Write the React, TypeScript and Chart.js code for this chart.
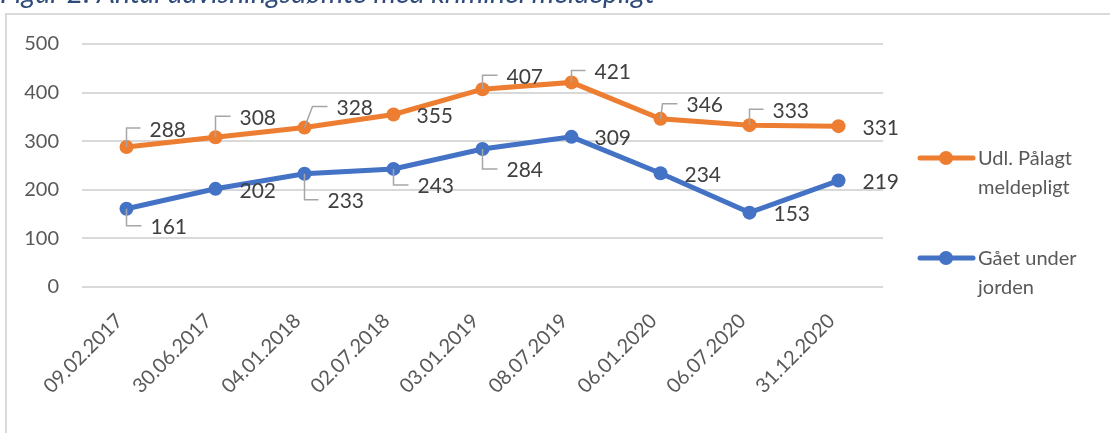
import React, { useEffect, useRef } from "react";
import { Chart, registerables } from "chart.js";

Chart.register(...registerables);

// ---- data ----
const categories = [
  "09.02.2017",
  "30.06.2017",
  "04.01.2018",
  "02.07.2018",
  "03.01.2019",
  "08.07.2019",
  "06.01.2020",
  "06.07.2020",
  "31.12.2020",
];
const udlPaalagtMeldepligt = [288, 308, 328, 355, 407, 421, 346, 333, 331];
const gaaetUnderJorden = [161, 202, 233, 243, 284, 309, 234, 153, 219];
const yMin = 0;
const yMax = 500;
const yStep = 100;
const seriesOneName = ["Udl. Pålagt", "meldepligt"];
const seriesTwoName = ["Gået under", "jorden"];
const titleText = "Figur 2: Antal udvisningsdømte med kriminel meldepligt";

// ---- label placement (pixel offsets relative to each point) ----
const orangeLabelDx = [23, 24, 32, 23, 24, 23, 26, 23, 24];
const orangeLabelDy = [-18, -20, -20, 1, -13, -11, -14, -15, 1];
const orangeLeader = [1, 1, 1, 0, 1, 1, 1, 1, 0];
const blueLabelDx = [24, 24, 23, 24, 24, 23, 24, 24, 24];
const blueLabelDy = [18, 2, 27, 17, 21, 1, 1, 1, 1];
const blueLeader = [1, 0, 1, 1, 1, 0, 0, 0, 0];

const FONT = "Lato, 'Open Sans', sans-serif";
const ORANGE = "#ED7D31";
const BLUE = "#4472C4";

const decorPlugin = {
  id: "decor",
  beforeDraw(chart: any) {
    const ctx = chart.ctx;
    ctx.save();
    ctx.fillStyle = "#ffffff";
    ctx.fillRect(0, 0, chart.width, chart.height);
    ctx.font = `italic 28.5px ${FONT}`;
    ctx.fillStyle = "#2F4B7C";
    ctx.textBaseline = "alphabetic";
    ctx.textAlign = "left";
    ctx.fillText(titleText, 0, 3);
    ctx.strokeStyle = "#D9D9D9";
    ctx.lineWidth = 2;
    ctx.beginPath();
    ctx.moveTo(6, chart.height + 5);
    ctx.lineTo(6, 14);
    ctx.lineTo(chart.width + 5, 14);
    ctx.stroke();
    ctx.restore();
  },
  afterDatasetsDraw(chart: any) {
    const ctx = chart.ctx;
    const cfgs = [
      { dx: orangeLabelDx, dy: orangeLabelDy, leader: orangeLeader },
      { dx: blueLabelDx, dy: blueLabelDy, leader: blueLeader },
    ];
    ctx.save();
    chart.data.datasets.forEach((ds: any, di: number) => {
      const meta = chart.getDatasetMeta(di);
      const c = cfgs[di];
      meta.data.forEach((pt: any, i: number) => {
        const px = pt.x;
        const py = pt.y;
        const lx = px + c.dx[i];
        const ly = py + c.dy[i];
        if (c.leader[i]) {
          const cornerX = px + Math.max(0, c.dx[i] - 24);
          ctx.strokeStyle = "#A6A6A6";
          ctx.lineWidth = 1.5;
          ctx.beginPath();
          ctx.moveTo(px, py);
          ctx.lineTo(cornerX, ly - 1);
          ctx.lineTo(lx - 9, ly - 1);
          ctx.stroke();
        }
        ctx.font = `21px ${FONT}`;
        ctx.fillStyle = "#404040";
        ctx.textAlign = "left";
        ctx.textBaseline = "alphabetic";
        ctx.fillText(String(ds.data[i]), lx, ly + 7.5);
      });
    });

    // legend
    const items = [
      { name: seriesOneName, color: chart.data.datasets[0].borderColor, y: 158 },
      { name: seriesTwoName, color: chart.data.datasets[1].borderColor, y: 258 },
    ];
    items.forEach((it) => {
      ctx.strokeStyle = it.color;
      ctx.lineWidth = 5;
      ctx.lineCap = "round";
      ctx.beginPath();
      ctx.moveTo(920, it.y);
      ctx.lineTo(973, it.y);
      ctx.stroke();
      ctx.fillStyle = it.color;
      ctx.beginPath();
      ctx.arc(946, it.y, 7, 0, Math.PI * 2);
      ctx.fill();
      ctx.font = `20px ${FONT}`;
      ctx.fillStyle = "#595959";
      ctx.textAlign = "left";
      ctx.textBaseline = "alphabetic";
      it.name.forEach((line, k) => {
        ctx.fillText(line, 978, it.y + 7 + k * 29);
      });
    });
    ctx.restore();
  },
};

export default function App() {
  const ref = useRef<HTMLCanvasElement | null>(null);
  useEffect(() => {
    document.body.style.margin = "0";
    if (!ref.current) return;
    const chart = new Chart(ref.current, {
      type: "line",
      data: {
        labels: categories,
        datasets: [
          {
            label: seriesOneName.join(" "),
            data: udlPaalagtMeldepligt,
            borderColor: ORANGE,
            backgroundColor: ORANGE,
            borderWidth: 5,
            pointRadius: 7,
            pointBorderWidth: 0,
            pointBackgroundColor: ORANGE,
            tension: 0,
          },
          {
            label: seriesTwoName.join(" "),
            data: gaaetUnderJorden,
            borderColor: BLUE,
            backgroundColor: BLUE,
            borderWidth: 5,
            pointRadius: 7,
            pointBorderWidth: 0,
            pointBackgroundColor: BLUE,
            tension: 0,
          },
        ],
      },
      options: {
        animation: false,
        responsive: false,
        devicePixelRatio: 1,
        layout: { padding: { left: 0, right: 227, top: 44, bottom: 26 } },
        plugins: {
          legend: { display: false },
          tooltip: { enabled: false },
          title: { display: false },
        },
        scales: {
          x: {
            type: "category",
            offset: true,
            afterFit: (s: any) => {
              s.height = 120;
            },
            grid: { display: false, drawTicks: false },
            border: { display: false },
            ticks: {
              autoSkip: false,
              minRotation: 45,
              maxRotation: 45,
              padding: 22,
              labelOffset: -7,
              color: "#595959",
              font: { family: FONT, size: 20 },
            },
          },
          y: {
            min: yMin,
            max: yMax,
            afterFit: (s: any) => {
              s.width = 82;
            },
            grid: { color: "#D9D9D9", lineWidth: 2, drawTicks: false },
            border: { display: false },
            ticks: {
              stepSize: yStep,
              padding: 23,
              color: "#595959",
              font: { family: FONT, size: 20 },
            },
          },
        },
      },
      plugins: [decorPlugin],
    });
    return () => chart.destroy();
  }, []);
  return (
    <div style={{ position: "fixed", left: 0, top: 0, width: 1110, height: 433 }}>
      <canvas ref={ref} width={1110} height={433} style={{ width: 1110, height: 433, display: "block" }} />
    </div>
  );
}
